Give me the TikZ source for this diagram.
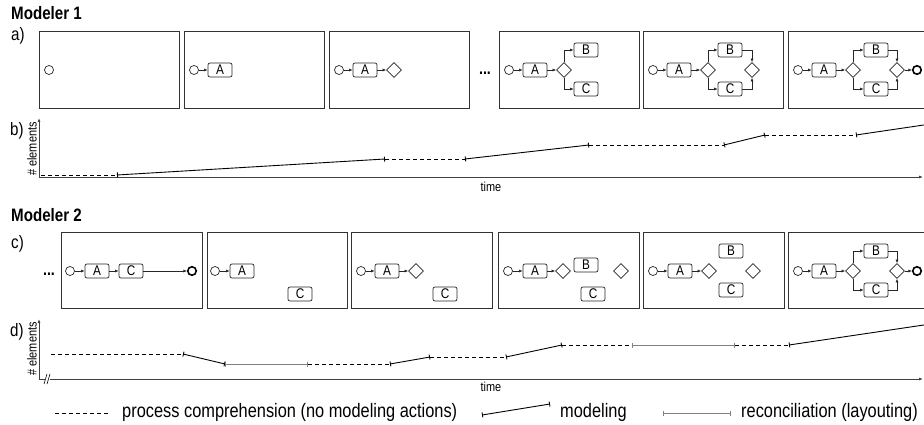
\documentclass[tikz,border=0pt]{standalone}
\usepackage{fontspec}
\setmainfont{Liberation Sans}[FakeStretch=0.84]
\usetikzlibrary{shapes.geometric, arrows.meta, positioning, calc}

\tikzset{
  frame/.style={draw=black!80, line width=0.9pt},
  startev/.style={circle, draw=black!85, line width=0.7pt, minimum size=9pt, inner sep=0pt},
  endev/.style={circle, draw=black, line width=1.6pt, minimum size=8.5pt, inner sep=0pt},
  task/.style={draw=black!85, line width=0.7pt, rounded corners=2pt, minimum width=24pt,
    minimum height=14pt, inner sep=0pt, font=\fontsize{14}{14}\selectfont},
  gate/.style={diamond, draw=black!85, line width=0.7pt, minimum width=15pt,
    minimum height=15pt, inner sep=0pt},
  flow/.style={-{Latex[length=3.5pt,width=3pt]}, line width=0.6pt, black!85},
  axis/.style={-{Latex[length=4pt,width=3pt]}, line width=0.9pt, black!75},
  compre/.style={dash pattern=on 4pt off 3pt, line width=0.8pt},
  modl/.style={{Bar[width=5pt]}-{Bar[width=5pt]}, line width=0.9pt},
  recon/.style={{Bar[width=5pt]}-{Bar[width=5pt]}, line width=0.8pt, gray},
  lbl/.style={font=\fontsize{18}{18}\selectfont, anchor=base west, inner sep=0pt},
  head/.style={font=\bfseries\fontsize{18}{18}\selectfont, anchor=base west, inner sep=0pt},
  small/.style={font=\fontsize{13}{13}\selectfont, inner sep=0pt},
  dotsty/.style={font=\bfseries\fontsize{17}{17}\selectfont, inner sep=0pt},
  legend/.style={font=\fontsize{19.5}{19.5}\selectfont, anchor=west, inner sep=0pt}
}

\begin{document}
\begin{tikzpicture}[x=1pt, y=-1pt]
\useasboundingbox (0,0) rectangle (924,425);
\clip (0,0) rectangle (924,425);

% Modeler 1
\node[head] (m1) at (11,20) {Modeler 1};
\node[lbl] (la) at (11,41) {a)};
\foreach \x in {39,184,329,499,643,788}
  \draw[frame] (\x,31) rectangle ++(140,77);
\node[dotsty] (dotsa) at (485,73) {...};

\node[startev] (a1-s) at (49,70) {};

\begin{scope}[shift={(184,70)}, name prefix=a2-]
  \node[startev] (s) at (10,0) {};
  \node[task] (A) at (36,0) {A};
  \draw[flow] (s) -- (A);
\end{scope}

\begin{scope}[shift={(329,70)}, name prefix=a3-]
  \node[startev] (s) at (10,0) {};
  \node[task] (A) at (36,0) {A};
  \node[gate] (g1) at (65,0) {};
  \draw[flow] (s) -- (A);
  \draw[flow] (A) -- (g1);
\end{scope}

\begin{scope}[shift={(499,70)}, name prefix=a4-]
  \node[startev] (s) at (10,0) {};
  \node[task] (A) at (36,0) {A};
  \node[gate] (g1) at (65,0) {};
  \node[task] (B) at (87,-20) {B};
  \node[task] (C) at (87,19) {C};
  \draw[flow] (s) -- (A);
  \draw[flow] (A) -- (g1);
  \draw[flow] (g1.north) |- (B);
  \draw[flow] (g1.south) |- (C);
\end{scope}

\begin{scope}[shift={(643,70)}, name prefix=a5-]
  \node[startev] (s) at (10,0) {};
  \node[task] (A) at (36,0) {A};
  \node[gate] (g1) at (65,0) {};
  \node[task] (B) at (87,-20) {B};
  \node[task] (C) at (87,19) {C};
  \node[gate] (g2) at (109,0) {};
  \draw[flow] (s) -- (A);
  \draw[flow] (A) -- (g1);
  \draw[flow] (g1.north) |- (B);
  \draw[flow] (g1.south) |- (C);
  \draw[flow] (B) -| (g2.north);
  \draw[flow] (C) -| (g2.south);
\end{scope}

% full model, last frame of both rows
\foreach \r/\y in {a/70, c/271} {
  \begin{scope}[shift={(788,\y)}, name prefix=\r6-]
    \node[startev] (s) at (10,0) {};
    \node[task] (A) at (36,0) {A};
    \node[gate] (g1) at (65,0) {};
    \node[task] (B) at (88,-20) {B};
    \node[task] (C) at (88,19) {C};
    \node[gate] (g2) at (109,0) {};
    \node[endev] (e) at (129,0) {};
    \draw[flow] (s) -- (A);
    \draw[flow] (A) -- (g1);
    \draw[flow] (g1.north) |- (B);
    \draw[flow] (g1.south) |- (C);
    \draw[flow] (B) -| (g2.north);
    \draw[flow] (C) -| (g2.south);
    \draw[flow] (g2) -- (e);
  \end{scope}
}

% b) chart
\node[lbl] (lb) at (10,136) {b)};
\coordinate (b-o) at (39,177);
\coordinate (b-y) at (39,118);
\coordinate (b-x) at (923,177);
\draw[axis] (b-o) -- (b-y);
\draw[axis] (b-o) -- (b-x);
\node[small, rotate=90] (b-ylab) at (32,149) {\# elements};
\node[small] (b-time) at (491,187) {time};
\foreach \n/\x/\y in {0/41/175, 1/117/175, 2/385/159, 3/465/159, 4/589/145,
                      5/724/145, 6/765/135, 7/856/135, 8/940/122.6}
  \coordinate (b\n) at (\x,\y);
\foreach \s/\t/\st in {0/1/compre, 1/2/modl, 2/3/compre, 3/4/modl, 4/5/compre,
                       5/6/modl, 6/7/compre, 7/8/modl}
  \draw[\st] (b\s) -- (b\t);

% Modeler 2
\node[head] (m2) at (11,221) {Modeler 2};
\node[lbl] (lc) at (11,248) {c)};
\foreach \x/\w in {61/141, 207/140, 351/141, 498/141, 643/141, 788/141}
  \draw[frame] (\x,232) rectangle ++(\w,76);
\node[dotsty] (dotsc) at (49,274) {...};

\begin{scope}[shift={(61,271)}, name prefix=c1-]
  \node[startev] (s) at (9,0) {};
  \node[task] (A) at (36,0) {A};
  \node[task] (C) at (70,0) {C};
  \node[endev] (e) at (131,0) {};
  \draw[flow] (s) -- (A);
  \draw[flow] (A) -- (C);
  \draw[flow] (C) -- (e);
\end{scope}

\begin{scope}[shift={(207,271)}, name prefix=c2-]
  \node[startev] (s) at (8,0) {};
  \node[task] (A) at (35,0) {A};
  \node[task] (C) at (93,23) {C};
  \draw[flow] (s) -- (A);
\end{scope}

\begin{scope}[shift={(351,271)}, name prefix=c3-]
  \node[startev] (s) at (10,0) {};
  \node[task] (A) at (36,0) {A};
  \node[gate] (g1) at (65,0) {};
  \node[task] (C) at (94,23) {C};
  \draw[flow] (s) -- (A);
  \draw[flow] (A) -- (g1);
\end{scope}

\begin{scope}[shift={(498,271)}, name prefix=c4-]
  \node[startev] (s) at (10,0) {};
  \node[task] (A) at (37,0) {A};
  \node[gate] (g1) at (65,0) {};
  \node[task] (B) at (88,-6) {B};
  \node[task] (C) at (95,23) {C};
  \node[gate] (g2) at (123,0) {};
  \draw[flow] (s) -- (A);
  \draw[flow] (A) -- (g1);
\end{scope}

\begin{scope}[shift={(643,271)}, name prefix=c5-]
  \node[startev] (s) at (10,0) {};
  \node[task] (A) at (37,0) {A};
  \node[gate] (g1) at (66,0) {};
  \node[task] (B) at (88,-20) {B};
  \node[task] (C) at (88,19) {C};
  \node[gate] (g2) at (110,0) {};
  \draw[flow] (s) -- (A);
  \draw[flow] (A) -- (g1);
\end{scope}

% d) chart
\node[lbl] (ld) at (10,336) {d)};
\coordinate (d-o) at (39,379);
\coordinate (d-y) at (39,319);
\coordinate (d-x) at (923,379);
\draw[axis] (d-o) -- (d-y);
\draw[axis] (d-o) -- (d-x);
\fill[white] (45,374) rectangle (50,384);
\draw[line width=0.6pt] (44,384) -- (47,374) (47,384) -- (50,374);
\node[small, rotate=90] (d-ylab) at (32,349) {\# elements};
\node[small] (d-time) at (491,387) {time};
\foreach \n/\x/\y in {0/51/354, 1/183/354, 2/225/364, 3/308/364, 4/390/364, 5/430/357,
                      6/506/357, 7/562/345, 8/632/345, 9/735/345, 10/789/345, 11/940/322.6}
  \coordinate (d\n) at (\x,\y);
\foreach \s/\t/\st in {0/1/compre, 1/2/modl, 2/3/recon, 3/4/compre, 4/5/modl, 5/6/compre,
                       6/7/modl, 7/8/compre, 8/9/recon, 9/10/compre, 10/11/modl}
  \draw[\st] (d\s) -- (d\t);

% legend
\coordinate (k1a) at (55,413);  \coordinate (k1b) at (109,413);
\coordinate (k2a) at (482,415); \coordinate (k2b) at (550,404);
\coordinate (k3a) at (663,413); \coordinate (k3b) at (731,413);
\draw[compre] (k1a) -- (k1b);
\draw[modl] (k2a) -- (k2b);
\draw[recon] (k3a) -- (k3b);
\node[legend] (t1) at (122,412) {process comprehension (no modeling actions)};
\node[legend] (t2) at (560,412) {modeling};
\node[legend] (t3) at (741,412) {reconciliation (layouting)};
\end{tikzpicture}
\end{document}
